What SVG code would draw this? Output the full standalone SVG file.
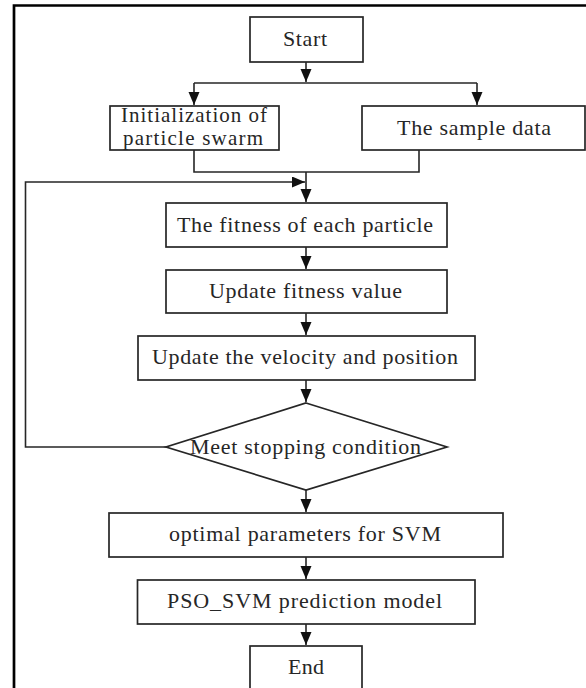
<svg xmlns="http://www.w3.org/2000/svg" width="586" height="688" viewBox="0 0 586 688">
<defs>
<style>
.box{fill:#fff;stroke:#262626;stroke-width:1.7}
.ln{fill:none;stroke:#262626;stroke-width:1.6}
.t{font-family:"Liberation Serif","Times New Roman",serif;font-size:22px;fill:#262626}
.t2{font-size:21px}
</style>
<marker id="ah" markerUnits="userSpaceOnUse" markerWidth="14" markerHeight="12" refX="13" refY="5.5" orient="auto">
<path d="M0,0 L13,5.5 L0,11 Z" fill="#111"/>
</marker>
</defs>
<rect width="586" height="688" fill="#fff"/>
<path d="M14,690 V5.5 H590" fill="none" stroke="#000" stroke-width="2.7"/>
<g id="connectors">
<path class="ln" d="M306,62 V82" marker-end="url(#ah)"/>
<path class="ln" d="M194,83 H477"/>
<path class="ln" d="M194,83 V105" marker-end="url(#ah)"/>
<path class="ln" d="M477,83 V105" marker-end="url(#ah)"/>
<path class="ln" d="M194,150 V172 H419 V150"/>
<path class="ln" d="M306,172 V202" marker-end="url(#ah)"/>
<path class="ln" d="M166,447 H25.5 V182 H305" marker-end="url(#ah)"/>
<path class="ln" d="M306,247 V269" marker-end="url(#ah)"/>
<path class="ln" d="M306,313 V335" marker-end="url(#ah)"/>
<path class="ln" d="M306,380 V402" marker-end="url(#ah)"/>
<path class="ln" d="M306,490 V512" marker-end="url(#ah)"/>
<path class="ln" d="M306,557 V579" marker-end="url(#ah)"/>
<path class="ln" d="M306,624 V645" marker-end="url(#ah)"/>
</g>
<g id="start">
<rect class="box" x="250" y="17" width="113" height="45"/>
<text class="t" x="283" y="46" textLength="44" lengthAdjust="spacing">Start</text>
</g>
<g id="init">
<rect class="box" x="110" y="106" width="169" height="44"/>
<text class="t t2" x="121" y="121.5" textLength="146" lengthAdjust="spacing">Initialization of</text>
<text class="t t2" x="123" y="145" textLength="140" lengthAdjust="spacing">particle swarm</text>
</g>
<g id="sample">
<rect class="box" x="362" y="106" width="223" height="44"/>
<text class="t" x="397" y="134.5" textLength="154" lengthAdjust="spacing">The sample data</text>
</g>
<g id="fitness">
<rect class="box" x="166" y="203" width="281" height="44"/>
<text class="t" x="177" y="231.5" textLength="256" lengthAdjust="spacing">The fitness of each particle</text>
</g>
<g id="update-fitness">
<rect class="box" x="166" y="270" width="281" height="43"/>
<text class="t" x="209" y="298" textLength="193" lengthAdjust="spacing">Update fitness value</text>
</g>
<g id="update-velocity">
<rect class="box" x="138" y="336" width="337" height="44"/>
<text class="t" x="152" y="364" textLength="306" lengthAdjust="spacing">Update the velocity and position</text>
</g>
<g id="stop">
<polygon class="box" points="306,403 447,447 306,490 166,447"/>
<text class="t" x="190" y="453.5" textLength="231" lengthAdjust="spacing">Meet stopping condition</text>
</g>
<g id="optimal">
<rect class="box" x="109" y="513" width="394" height="44"/>
<text class="t" x="169" y="541" textLength="272" lengthAdjust="spacing">optimal parameters for SVM</text>
</g>
<g id="model">
<rect class="box" x="137.5" y="580" width="337.5" height="44"/>
<text class="t" x="167" y="608" textLength="275" lengthAdjust="spacing">PSO_SVM prediction model</text>
</g>
<g id="end">
<rect class="box" x="250" y="646" width="112" height="50"/>
<text class="t" x="288" y="673.5" textLength="36" lengthAdjust="spacing">End</text>
</g>
</svg>
